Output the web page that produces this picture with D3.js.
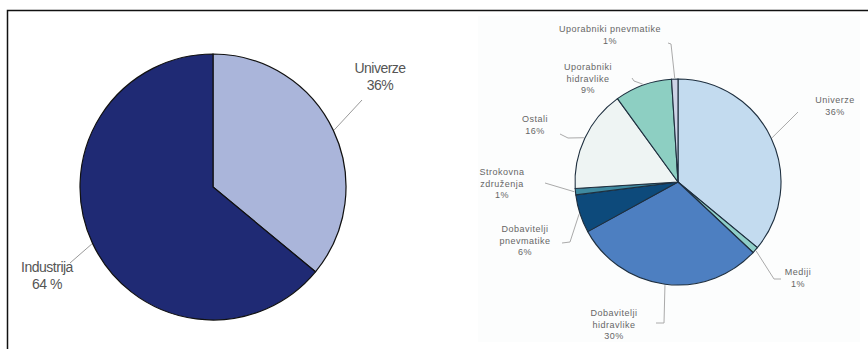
<!DOCTYPE html>
<html>
<head>
<meta charset="utf-8">
<script src="https://cdn.jsdelivr.net/npm/d3@7"></script>
<style>
	body { margin: 0; background: #fff; }
	svg text { font-family: "Liberation Sans", Arial, sans-serif; }
</style>
</head>
<body>
<div id="chart"></div>
<script>
// left pie data
const leftCategories = ['Univerze', 'Industrija'];
const leftValues = [36, 64];
const leftLabels = ['36%', '64 %'];
const leftColors = ['#aab5da', '#1f2a74'];

// right pie data
const rightCategories = [
	['Univerze'],
	['Mediji'],
	['Dobavitelji', 'hidravlike'],
	['Dobavitelji', 'pnevmatike'],
	['Strokovna', 'združenja'],
	['Ostali'],
	['Uporabniki', 'hidravlike'],
	['Uporabniki pnevmatike']
];
const rightValues = [36, 1, 30, 6, 1, 16, 9, 1];
const rightColors = ['#c3dbef', '#8fcfc8', '#4d7fc1', '#0d4a7b', '#3f8aa0', '#eef4f3', '#8dcfc2', '#cdd3e6'];

(() => {
	const width = 868;
	const height = 349;
	const svg = d3.select('#chart').append('svg')
		.attr('width', width)
		.attr('height', height);

	// frame
	svg.append('rect')
		.attr('x', 478)
		.attr('y', 16)
		.attr('width', 382)
		.attr('height', 326)
		.attr('fill', '#fcfdfd');
	svg.append('path')
		.attr('d', `M7.5,${height} V10.5 H${width}`)
		.attr('fill', 'none')
		.attr('stroke', '#111')
		.attr('stroke-width', 1.5);

	const pie = d3.pie().sort(null).value(d => d);

	// left pie
	const lr = 133;
	const left = svg.append('g').attr('transform', 'translate(213, 187)');
	const leftArc = d3.arc().innerRadius(0).outerRadius(lr);
	const leftPie = pie(leftValues);
	left.selectAll('.slice')
		.data(leftPie)
		.enter().append('path')
			.attr('class', 'slice')
			.attr('d', leftArc)
			.attr('fill', (d, i) => leftColors[i])
			.attr('stroke', '#111')
			.attr('stroke-width', 1.2);

	const leftLeaders = [
		{ end: [149, -87], text: [167, -114], anchor: 'middle' },
		{ end: [-143, 76], text: [-166, 85], anchor: 'middle' }
	];
	leftPie.forEach((d, i) => {
		const a = (d.startAngle + d.endAngle) / 2;
		const sx = Math.sin(a) * (lr + 1);
		const sy = -Math.cos(a) * (lr + 1);
		const lay = leftLeaders[i];
		left.append('line')
			.attr('x1', sx).attr('y1', sy)
			.attr('x2', lay.end[0]).attr('y2', lay.end[1])
			.attr('stroke', '#999')
			.attr('stroke-width', 1);
		const t = left.append('text')
			.attr('x', lay.text[0])
			.attr('y', lay.text[1])
			.attr('text-anchor', lay.anchor)
			.attr('font-size', 14)
			.attr('letter-spacing', -0.5)
			.attr('fill', '#555');
		t.append('tspan').attr('x', lay.text[0]).text(leftCategories[i]);
		t.append('tspan').attr('x', lay.text[0]).attr('dy', 17).text(leftLabels[i]);
	});

	// right pie
	const rr = 103;
	const right = svg.append('g').attr('transform', 'translate(678, 182)');
	const rightArc = d3.arc().innerRadius(0).outerRadius(rr);
	const rightPie = pie(rightValues);
	right.selectAll('.slice')
		.data(rightPie)
		.enter().append('path')
			.attr('class', 'slice')
			.attr('d', rightArc)
			.attr('fill', (d, i) => rightColors[i])
			.attr('stroke', '#1e2f3f')
			.attr('stroke-width', 1.1);

	// leader bends and label anchors, relative to centre
	const rightLayout = [
		{ pts: [[110, -60], [120, -70]], text: [157, -79] },
		{ pts: [[96, 97], [103, 97]], text: [120, 93] },
		{ pts: [[-14, 141], [-22, 141]], text: [-64, 134] },
		{ pts: [[-108, 60], [-116, 61]], text: [-153, 50] },
		{ pts: [[-133, 1]], text: [-176, -7] },
		{ pts: [[-110, -44], [-118, -48]], text: [-143, -60] },
		{ pts: [[-44, -101], [-46, -104]], text: [-90, -112] },
		{ pts: [[-7, -138], [-10, -139]], text: [-68, -150] }
	];
	rightPie.forEach((d, i) => {
		const a = (d.startAngle + d.endAngle) / 2;
		const sx = Math.sin(a) * (rr + 1);
		const sy = -Math.cos(a) * (rr + 1);
		const lay = rightLayout[i];
		right.append('polyline')
			.attr('points', [[sx, sy]].concat(lay.pts).map(p => p.join(',')).join(' '))
			.attr('fill', 'none')
			.attr('stroke', '#aaa')
			.attr('stroke-width', 1);
		const lines = rightCategories[i].concat([`${rightValues[i]}%`]);
		const t = right.append('text')
			.attr('y', lay.text[1])
			.attr('text-anchor', 'middle')
			.attr('font-size', 9)
			.attr('letter-spacing', 0.5)
			.attr('fill', '#666');
		lines.forEach((s, j) => {
			t.append('tspan')
				.attr('x', lay.text[0])
				.attr('dy', j === 0 ? 0 : 11.5)
				.text(s);
		});
	});
})();
</script>
</body>
</html>
